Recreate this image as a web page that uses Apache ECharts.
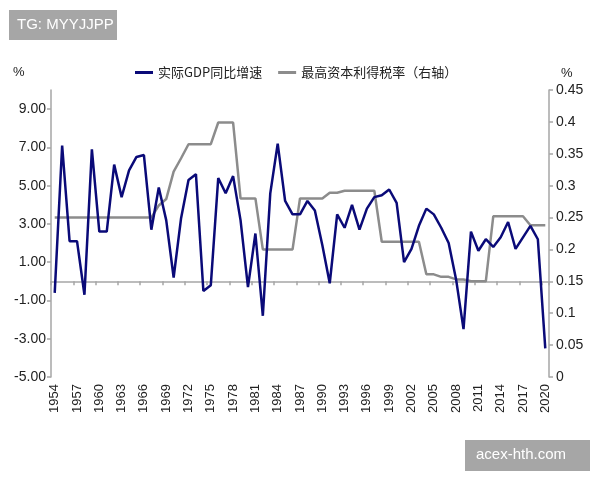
<!DOCTYPE html>
<html>
<head>
<meta charset="utf-8">
<script src="https://cdn.jsdelivr.net/npm/echarts@6/dist/echarts.min.js"></script>
<style>
html, body { margin: 0; padding: 0; background: #fff; }
#chart { width: 600px; height: 480px; }
</style>
</head>
<body>
<div id="chart"></div>
<script>
// 年份 1954-2020
let years = [];
for (let y = 1954; y <= 2020; y++) { years.push(String(y)); }

// 实际GDP同比增速 (%)
let gdpGrowth = [
    -0.6, 7.1, 2.1, 2.1, -0.7, 6.9, 2.6, 2.6, 6.1, 4.4,
    5.8, 6.5, 6.6, 2.7, 4.9, 3.2, 0.2, 3.3, 5.3, 5.6,
    -0.5, -0.2, 5.4, 4.6, 5.5, 3.2, -0.3, 2.5, -1.8, 4.6,
    7.2, 4.2, 3.5, 3.5, 4.2, 3.7, 1.9, -0.1, 3.5, 2.8,
    4.0, 2.7, 3.8, 4.4, 4.5, 4.8, 4.1, 1.0, 1.7, 2.9,
    3.8, 3.5, 2.8, 2.0, 0.1, -2.5, 2.6, 1.6, 2.2, 1.8,
    2.3, 3.1, 1.7, 2.3, 2.9, 2.2, -3.5
];

// 最高资本利得税率（右轴）
let capGainsTax = [
    0.25, 0.25, 0.25, 0.25, 0.25, 0.25, 0.25, 0.25, 0.25, 0.25,
    0.25, 0.25, 0.25, 0.25, 0.269, 0.279, 0.322, 0.343, 0.365, 0.365,
    0.365, 0.365, 0.399, 0.399, 0.399, 0.28, 0.28, 0.28, 0.20, 0.20,
    0.20, 0.20, 0.20, 0.28, 0.28, 0.28, 0.28, 0.289, 0.289, 0.292,
    0.292, 0.292, 0.292, 0.292, 0.212, 0.212, 0.212, 0.212, 0.212, 0.212,
    0.161, 0.161, 0.157, 0.157, 0.153, 0.153, 0.15, 0.15, 0.15, 0.252,
    0.252, 0.252, 0.252, 0.252, 0.238, 0.238, 0.238
];

let leftMin = -5, leftMax = 10, leftInterval = 2;
let rightMin = 0, rightMax = 0.45, rightInterval = 0.05;

let fontFam = 'Liberation Sans, Arial, Noto Sans CJK SC, sans-serif';
let axisGray = '#a6a6a6';

let chart = echarts.init(document.getElementById('chart'));

let option = {
    animation: false,
    textStyle: { fontFamily: fontFam },
    grid: { left: 51, right: 51, top: 90, bottom: 103, containLabel: false },
    legend: {
        top: 61,
        left: 130,
        itemWidth: 18,
        itemHeight: 3,
        itemGap: 16,
        icon: 'rect',
        textStyle: { fontSize: 13, color: '#222', fontFamily: 'Noto Sans CJK SC, Liberation Sans, sans-serif' },
        data: ['实际GDP同比增速', '最高资本利得税率（右轴）']
    },
    graphic: [
        { type: 'rect', left: 9, top: 10, shape: { width: 108, height: 30 }, style: { fill: '#a6a6a6' } },
        { type: 'text', left: 17, top: 17, style: { text: 'TG: MYYJJPP', fill: '#fff', fontSize: 15, fontFamily: fontFam } },
        { type: 'rect', left: 465, top: 440, shape: { width: 125, height: 31 }, style: { fill: '#a6a6a6' } },
        { type: 'text', left: 476, top: 447, style: { text: 'acex-hth.com', fill: '#fff', fontSize: 15, fontFamily: fontFam } },
        { type: 'text', left: 13, top: 66, style: { text: '%', fill: '#222', fontSize: 13, fontFamily: fontFam } },
        { type: 'text', left: 561, top: 67, style: { text: '%', fill: '#222', fontSize: 13, fontFamily: fontFam } }
    ],
    xAxis: [
        {
            type: 'category',
            data: years,
            boundaryGap: true,
            position: 'bottom',
            axisLine: { show: false, onZero: false },
            axisTick: { show: false },
            axisLabel: {
                interval: 2,
                rotate: 90,
                margin: 7,
                fontSize: 13,
                color: '#222'
            },
            splitLine: { show: false }
        },
        {
            type: 'category',
            data: years,
            boundaryGap: true,
            position: 'bottom',
            axisLine: { show: true, onZero: true, onZeroAxisIndex: 0, lineStyle: { color: axisGray, width: 1.5 } },
            axisTick: { show: true, interval: 2, length: 4, lineStyle: { color: axisGray, width: 1.5 } },
            axisLabel: { show: false },
            splitLine: { show: false }
        }
    ],
    yAxis: [
        {
            type: 'value',
            min: leftMin,
            max: leftMax,
            interval: leftInterval,
            axisLine: { show: true, lineStyle: { color: axisGray, width: 1.5 } },
            axisTick: { show: true, length: 4, lineStyle: { color: axisGray, width: 1.5 } },
            axisLabel: {
                margin: 5,
                fontSize: 14,
                color: '#222',
                showMaxLabel: false,
                formatter: function (v) { return v.toFixed(2); }
            },
            splitLine: { show: false }
        },
        {
            type: 'value',
            min: rightMin,
            max: rightMax,
            interval: rightInterval,
            position: 'right',
            axisLine: { show: true, lineStyle: { color: axisGray, width: 1.5 } },
            axisTick: { show: true, length: 4, lineStyle: { color: axisGray, width: 1.5 } },
            axisLabel: {
                margin: 7,
                fontSize: 14,
                color: '#222',
                formatter: function (v) { return String(Math.round(v * 100) / 100); }
            },
            splitLine: { show: false }
        }
    ],
    series: [
        {
            name: '实际GDP同比增速',
            type: 'line',
            xAxisIndex: 0,
            yAxisIndex: 0,
            data: gdpGrowth,
            symbol: 'none',
            lineStyle: { color: '#0a0a78', width: 2.5 },
            itemStyle: { color: '#0a0a78' },
            z: 3
        },
        {
            name: '最高资本利得税率（右轴）',
            type: 'line',
            xAxisIndex: 0,
            yAxisIndex: 1,
            data: capGainsTax,
            symbol: 'none',
            lineStyle: { color: '#8c8c8c', width: 2.5 },
            itemStyle: { color: '#8c8c8c' },
            z: 2
        }
    ]
};

chart.setOption(option);

window.onresize = function () {
    chart.resize();
};
</script>
</body>
</html>
